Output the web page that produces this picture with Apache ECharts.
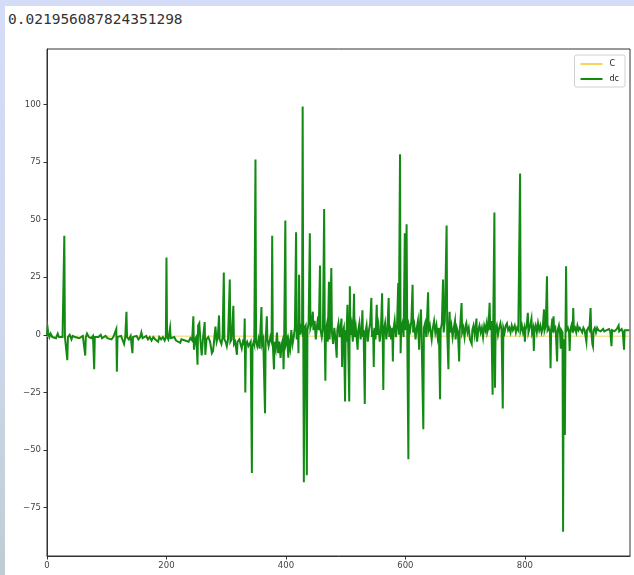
<!DOCTYPE html>
<html>
<head>
<meta charset="utf-8">
<script src="https://cdn.jsdelivr.net/npm/echarts@6/dist/echarts.min.js"></script>
<style>
  html, body { margin: 0; padding: 0; width: 634px; height: 575px; overflow: hidden; }
  body { background: linear-gradient(180deg, #d4dcf7 0%, #cfd8ee 55%, #bfcdd2 100%); position: relative; }
  #panel { position: absolute; left: 5px; top: 6px; width: 629px; height: 569px; background: #ffffff; }
  #out { position: absolute; left: 3px; top: 5px; font-family: "DejaVu Sans Mono", monospace; font-size: 14.5px; color: #333; letter-spacing: 0; }
  #chart { position: absolute; left: -5px; top: -6px; width: 634px; height: 575px; }
</style>
</head>
<body>
<div id="panel">
  <div id="out">0.021956087824351298</div>
  <div id="chart"></div>
</div>
<script>
// printed result above the figure
const printedValue = '0.021956087824351298';

// tick positions on both axes
const xTicks = [0, 200, 400, 600, 800];
const yTicks = [-75, -50, -25, 0, 25, 50, 75, 100];

// series names
const seriesNames = ['C', 'dc'];

// C: slow series, sits just under zero for the whole span
const cPoints = [[0, -0.6], [200, -0.6], [400, -0.6], [600, -0.6], [800, -0.6], [975, -0.6]];

// dc: index / change, first stretch (quiet, slightly negative drift)
const dcPart1 = [
  [0,0],[1,3],[2,1],[4,-1],[6,0.5],[9,-1],[12,-0.5],[15,-1.5],[18,0.5],[20,-1],[23,-0.5],[26,-1],[28,-0.5],
  [29,43],[30,-1],[32,-0.5],[34,-11],[35,-1],[38,0],[41,-2],[43,-0.5],[47,-1],[50,-0.5],[54,-1.5],[57,-1],
  [60,-0.5],[63,-1],[64,-9],[65,-1],[67,0.5],[70,-1],[74,-1.5],[77,-0.5],[79,-15],[80,-1],[83,-0.5],[86,-1],
  [90,0],[92,-1.5],[95,-1],[98,-0.5],[101,-1.5],[104,-1],[108,-2],[111,-1],[114,-0.5],[116,2.5],[117,-16],
  [118,-1],[121,-1.5],[124,-0.5],[127,-1],[129,-4],[131,-1],[133,10],[134,-1],[137,-2],[140,-0.5],[143,-8],
  [144,-1],[147,-1.5],[150,-0.5],[153,-2],[156,-1],[158,1],[160,-1.5],[163,-2],[166,-0.5],[169,-2],[172,-1],
  [175,-2.5],[178,-1],[181,-2],[184,-1.5],[186,-3],[188,-1],[191,-2],[194,-1],[197,-2.5],[199,-1],[200,33.5],
  [201,-1],[203,-2],[206,3],[207,-1.5],[210,-2],[213,-1],[216,-2.5],[219,-2],[223,-3.5],[225,-2],[228,-1.5],
  [231,-2.5],[234,-2],[237,-3],[240,-1.5],[243,-2.5]
];

// dc: volatility picks up
const dcPart2 = [
  [245,8],[246,-6.5],[248,-2],[250,-1],[252,-13],[253,4],[255,5],[257,-3],[259,-9],[261,-2],[264,5.5],
  [265,-8.7],[267,-2],[270,-1],[273,-3],[276,-8],[278,-7],[280,-2],[282,3.6],[284,-3],[286,-1],[288,8.4],
  [289,-2],[292,-4],[294,-1],[296,27],[297,-2],[299,-3],[301,-5],[303,-2],[306,24],[307,-3],[309,-2],
  [312,12.6],[313,-4],[315,-3],[318,-8.7],[319,-3],[322,-2],[324,-4],[326,-6],[328,-3],[330,-4],[331,7],
  [332,-25],[333,-4],[335,-3],[337,-5],[339,-4],[341,-3],[343,-60],[344,-5],[346,-3],[347,-4],[349,76],
  [350,-3],[352,-5],[354,-2],[356,-6],[359,12],[360,-4],[362,-2],[365,-34],[366,-3],[368,8],[369,-2],
  [371,-5],[374,-1],[376,-3],[377,43],[378,-4],[380,-15],[381,-3],[383,-6],[385,1],[387,-8],[389,-3],
  [391,-10],[393,-4],[395,-2],[396,-15],[397,-3],[399,49.6],[400,-4],[402,-2],[404,-10],[405,-3],[407,-6],
  [409,2],[411,-4],[413,-1],[415,3],[417,44.5],[418,-2],[420,4],[421,-8],[422,26],[423,0],[425,3],[427,1],
  [428,99],[429,2],[430,-64],[431,3],[433,4],[435,-61],[436,2],[438,5],[440,44],[441,3],[443,5],[445,10],
  [446,2],[448,6],[450,-2],[452,4],[454,8],[455,2],[457,30],[458,2],[460,-1]
];

// dc: busiest stretch
const dcPart3 = [
  [462,3],[464,54.6],[465,-1],[466,-20],[467,2],[469,5],[470,-3],[472,23],[473,-2],[474,4],[476,29],[477,1],
  [479,-4],[481,3],[483,-2],[485,-10],[486,2],[488,5],[490,-1],[493,7],[494,-14],[495,1],[497,3],[499,-29],
  [500,2],[501,-3],[503,13],[504,-1],[506,-29],[507,21],[508,0],[510,4],[512,-3],[514,17.8],[515,-1],[517,3],
  [520,-6.5],[521,2],[523,5],[525,-2],[527,3],[528,10.6],[529,-1],[530,2],[532,-30],[533,1],[535,4],[537,-3],
  [539,2],[541,5],[543,16],[544,-1],[546,2],[547,-14],[548,3],[550,-2],[552,13],[553,0],[555,4],[557,-3],
  [559,2],[561,18],[562,-1],[563,-24],[564,2],[566,5],[568,-2],[570,3],[572,16],[573,-1],[574,4],[576,-2],
  [578,3],[579,-11.6],[580,2],[582,6],[584,-1],[586,4],[588,22.5],[589,0],[591,78.3],[592,-8],[593,3],
  [595,5],[597,-1],[599,44],[600,2],[602,48],[603,3],[605,-54],[606,4],[608,2],[610,6],[612,21.7],[613,1],
  [615,4],[617,-2],[619,3],[621,6],[623,-6.5],[624,3],[626,11],[627,1],[630,-41],[631,3],[633,5],[635,-1],
  [638,18.4],[639,2],[641,4],[644,-2],[646,3],[648,6],[650,1],[652,4],[654,-1],[656,3],[658,-28],[659,2],
  [661,5],[663,24],[664,1],[666,6],[669,47.4],[670,1],[672,-15],[673,3],[674,10],[675,1],[677,4],[679,-1],
  [681,3],[683,6],[684,-2],[686,3],[688,1],[690,-11.6],[691,2],[692,5],[694,13.8],[695,1],[697,3],[699,-1],
  [701,4],[702,5],[704,1],[706,3],[708,-2],[711,-4],[712,2],[714,4],[716,0],[719,7],[720,-3],[722,2],[724,4],
  [726,1],[728,3],[730,-1],[732,4],[734,2],[736,5],[737,1],[739,3],[741,13.9],[742,2],[744,6],[746,-26],
  [747,3],[749,53],[750,-23],[751,2],[753,4],[755,0],[757,3],[759,5],[761,2],[763,-32],[764,3]
];

// dc: calmer tail with the deepest drop
const dcPart4 = [
  [766,1],[768,4],[770,5],[772,2],[774,3],[776,1],[778,4],[780,2],[783,4],[785,1],[787,3],[789,2],[792,70],
  [793,2],[795,4],[797,1],[799,3],[800,-3],[801,2],[803,4],[805,9.5],[806,1],[808,3],[811,7],[812,1],[814,3],
  [815,-7],[816,2],[818,4],[820,1],[822,5],[824,2],[826,4],[828,1],[830,3],[832,11],[833,2],[835,4],
  [837,25.4],[838,2],[840,3],[842,1],[843,-14.5],[844,2],[846,7],[847,1],[848,8],[849,2],[851,3],[852,0],
  [854,-11.6],[855,2],[857,4],[859,0],[860,-6],[861,2],[863,1],[864,-85.5],[865,-2],[867,-43.5],[868,1],
  [869,29.7],[870,2],[872,3],[874,1],[875,-7],[876,2],[878,4],[880,1],[881,11.6],[882,2],[884,3],[886,1],
  [888,4],[890,2],[892,3],[894,2],[896,1],[898,3],[900,2],[903,-3],[904,2],[906,3],[908,2],[910,11.6],
  [911,2],[913,-4],[914,-5],[915,2],[917,3],[919,1],[921,3],[923,2],[925,2.5],[927,1.5],[929,2],[931,2.5],
  [933,1.5],[935,2],[937,2],[939,1.5],[941,2.5],[943,1.5],[945,-5],[946,2],[948,2.5],[950,1.5],[952,2],
  [954,2.5],[957,4],[958,1.5],[960,2],[962,2.5],[964,1],[966,-6.5],[967,2],[969,1.5],[971,2],[973,1.5],[975,2]
];

const dcPoints = dcPart1.concat(dcPart2, dcPart3, dcPart4);

document.getElementById('out').textContent = printedValue;

const chart = echarts.init(document.getElementById('chart'), null, { renderer: 'canvas' });

const minus = v => String(v).replace('-', '\u2212');
const tickFont = { fontFamily: 'DejaVu Sans', fontSize: 8.5, color: '#444' };

chart.setOption({
  animation: false,
  grid: {
    left: 47, top: 49, right: 4, bottom: 19,
    show: true, borderColor: '#333', borderWidth: 1, backgroundColor: 'transparent'
  },
  legend: {
    data: [
      { name: seriesNames[0], icon: 'rect' },
      { name: seriesNames[1], icon: 'rect' }
    ],
    orient: 'vertical',
    right: 9, top: 55,
    itemWidth: 22, itemHeight: 2, itemGap: 7,
    padding: [5, 6, 4, 6],
    borderColor: '#d0d0d0', borderWidth: 1, borderRadius: 2,
    backgroundColor: '#fff',
    textStyle: { fontFamily: 'DejaVu Sans', fontSize: 8, color: '#222', padding: [0, 0, 0, 2] }
  },
  xAxis: {
    type: 'value', min: 0, max: 976,
    axisLine: { show: true, onZero: false, lineStyle: { color: '#333', width: 1 } },
    axisTick: { show: true, inside: false, length: 3.5, customValues: xTicks, lineStyle: { color: '#333' } },
    axisLabel: Object.assign({ customValues: xTicks, margin: 5, formatter: minus }, tickFont),
    splitLine: { show: false }
  },
  yAxis: {
    type: 'value', min: -96, max: 124,
    axisLine: { show: true, onZero: false, lineStyle: { color: '#333', width: 1 } },
    axisTick: { show: true, inside: false, length: 3.5, customValues: yTicks, lineStyle: { color: '#333' } },
    axisLabel: Object.assign({ customValues: yTicks, margin: 6, formatter: minus }, tickFont),
    splitLine: { show: false }
  },
  series: [
    {
      name: seriesNames[0], type: 'line', data: cPoints,
      showSymbol: false, symbol: 'none', z: 1,
      lineStyle: { color: '#f2d65a', width: 1 },
      itemStyle: { color: '#f2d65a' }
    },
    {
      name: seriesNames[1], type: 'line', data: dcPoints,
      showSymbol: false, symbol: 'none', sampling: null, z: 2,
      lineStyle: { color: '#138a13', width: 2, join: 'miter' },
      itemStyle: { color: '#138a13' }
    }
  ]
});
</script>
</body>
</html>
